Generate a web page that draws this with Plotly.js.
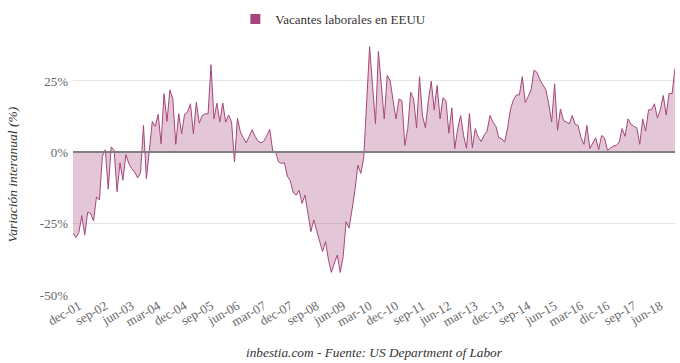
<!DOCTYPE html>
<html>
<head>
<meta charset="utf-8">
<script src="https://cdn.plot.ly/plotly-3.0.1.min.js"></script>
<style>html,body{margin:0;padding:0;background:#fff;}#chart{width:680px;height:363px;}</style>
</head>
<body>
<div id="chart"></div>
<script>
// Monthly categories, Oct 2001 .. Nov 2018
const monthNames = ["ene","feb","mar","abr","may","jun","jul","ago","sep","oct","nov","dic"];
const startYear = 2001, startMonth = 9; // october (0-based)
const nPoints = 206;
const months = [];
for (let i = 0; i < nPoints; i++) {
  const m = (startMonth + i) % 12;
  const y = startYear + Math.floor((startMonth + i) / 12);
  months.push(monthNames[m] + "-" + String(y % 100).padStart(2, "0"));
}

// Year-on-year change of US job openings (%)
const vacantes = [
  -28.4,-29.9,-28.1,-22.2,-29,-21,-21.4,-24,-15.6,-16.7,
  -1.4,0.9,-12.9,1.9,0.7,-13.8,-3.7,-9.8,-0.8,-3.9,
  -5.7,-6.9,-9,-7.2,9.4,-9.2,0.7,10.8,9.1,13.3,
  3,20.5,10.8,21.9,18.7,2.8,13.5,6.5,13.3,14.1,
  17,6.5,17.5,10.2,12.9,13.5,13.5,30.7,11.7,17.2,
  10.6,17.3,10.6,13.1,10.6,-3.4,12,7.1,5.1,3.3,
  5.6,7.9,5.6,3.9,3.3,3.9,5.9,8.1,0.5,0.1,
  -3.4,-3.9,-3.7,-8.4,-10,-14.2,-15,-13.3,-17.9,-15,
  -21.4,-27.8,-23.7,-27.8,-31.3,-34.8,-31.3,-37.7,-42.1,-38.8,
  -36,-42.1,-36.5,-24.3,-26.6,-20.2,-13.3,-4.5,-7.4,-2,
  17,37,23.5,10,35.3,23,11.7,26.9,25.1,18.1,
  11.7,18.7,18.1,2.4,8.3,21,18.7,8.6,26.5,12.9,
  8.6,18.1,24.9,14.9,23.4,11.7,19.1,18.1,6.7,15.6,
  1.3,8.2,12.9,5.9,1.4,13.6,1.6,8.3,5.3,3.8,
  6,7.4,12.9,10.6,9.1,5.1,4.8,3.6,8.6,15.2,
  18.4,20.1,20.1,26.5,17.5,19.5,21.9,28.8,28,25.4,
  23.6,21.9,17,10.6,24,7.7,15.2,11.2,10.6,10,
  12.9,9.8,9.4,5.1,2.8,9.4,1.3,3,5.1,0.9,
  5.9,5.1,0.7,1.5,2.2,2.4,3.6,8.3,5.6,11.7,
  9.8,9.1,8.6,2.8,11.7,7.4,14.9,14.9,17,12,
  14.9,19.9,13.1,20.7,20.5,29.5
];

const tickLabels = ["dec-01","sep-02","jun-03","mar-04","dec-04","sep-05","jun-06","mar-07",
  "dec-07","sep-08","jun-09","mar-10","dec-10","sep-11","jun-12","mar-13","dec-13","sep-14",
  "jun-15","mar-16","dic-16","sep-17","jun-18"];
const tickVals = tickLabels.map((t, k) => months[2 + 9 * k]);

const yTickVals = [-50, -25, 0, 25];
const yTickText = ["-50%", "-25%", "0%", "25%"];

const seriesName = "Vacantes laborales en EEUU";
const lineColor = "#a6467a";
const serif = "Liberation Serif, Times New Roman, serif";

const traces = [
  {
    type: "scatter", mode: "lines", x: months, y: vacantes,
    fill: "tozeroy", fillcolor: "rgba(166,70,122,0.3)",
    line: {color: lineColor, width: 1}, showlegend: false, hoverinfo: "skip"
  },
  {
    type: "scatter", mode: "markers", x: [null], y: [null], name: seriesName,
    marker: {symbol: "square", size: 10, color: lineColor}, showlegend: true
  }
];

const layout = {
  width: 680, height: 363,
  margin: {l: 73, r: 5, t: 40, b: 68},
  paper_bgcolor: "#fff", plot_bgcolor: "#fff",
  font: {family: serif, size: 13, color: "#666"},
  showlegend: true,
  legend: {
    orientation: "h", x: 0.4325, xanchor: "center", y: 1.082, yanchor: "middle",
    font: {family: serif, size: 13, color: "#333"}, bgcolor: "rgba(0,0,0,0)"
  },
  xaxis: {
    type: "category", range: [0, nPoints - 1],
    tickmode: "array", tickvals: tickVals, ticktext: tickLabels,
    tickangle: -30, showgrid: false, zeroline: false, showline: false, ticks: "",
    tickfont: {family: serif, size: 13, color: "#666"}, fixedrange: true
  },
  yaxis: {
    range: [-50, 39], tickmode: "array", tickvals: yTickVals, ticktext: yTickText,
    showgrid: true, gridcolor: "#e6e6e6", gridwidth: 1,
    zeroline: true, zerolinecolor: "#808080", zerolinewidth: 2, zerolinelayer: "above traces",
    showline: false, ticks: "", ticklabelstandoff: 4,
    tickfont: {family: serif, size: 13, color: "#666"}, fixedrange: true
  },
  annotations: [
    {
      text: "<i>Variación interanual (%)</i>", textangle: -90,
      xref: "paper", yref: "paper", x: -0.101, y: 0.475, xanchor: "center", yanchor: "middle",
      showarrow: false, font: {family: serif, size: 13.5, color: "#333"}
    },
    {
      text: "<i>inbestia.com - Fuente: US Department of Labor</i>",
      xref: "paper", yref: "paper", x: 0.5, y: -0.227, xanchor: "center", yanchor: "middle",
      showarrow: false, font: {family: serif, size: 13.3, color: "#333"}
    }
  ]
};

Plotly.newPlot("chart", traces, layout, {staticPlot: true, displayModeBar: false});
</script>
</body>
</html>
